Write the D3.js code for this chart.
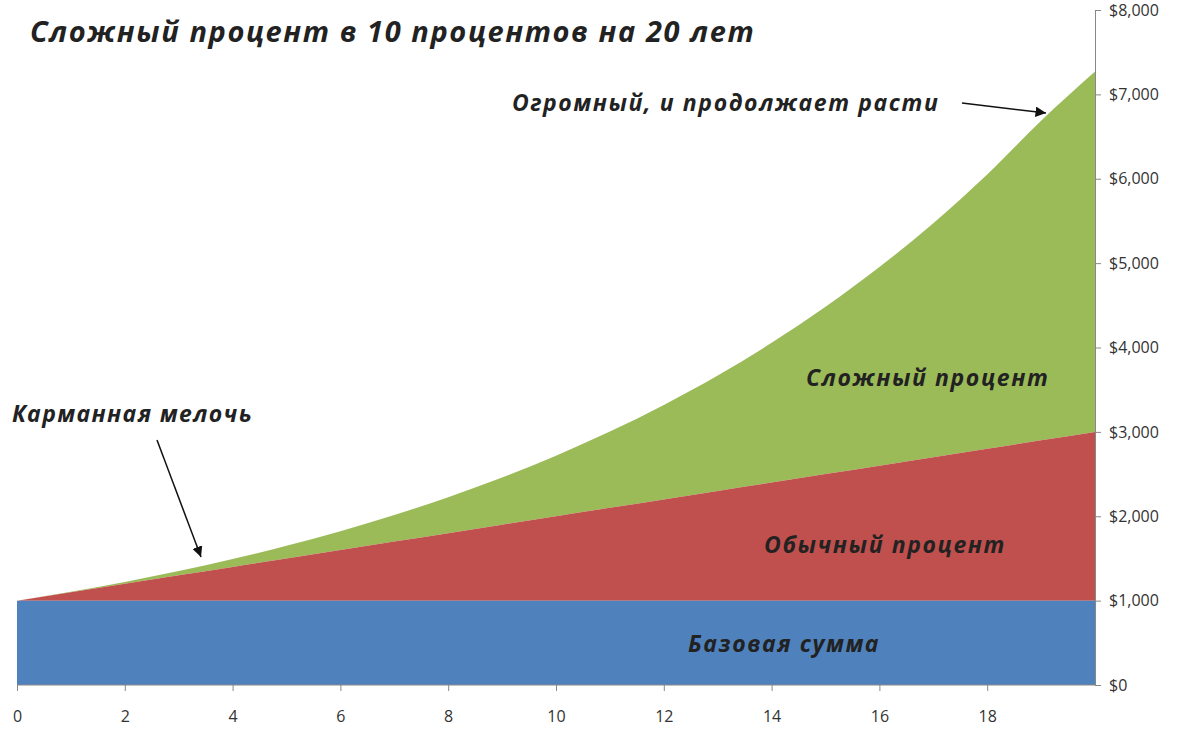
<!DOCTYPE html>
<html><head><meta charset="utf-8">
<script src="https://cdn.jsdelivr.net/npm/d3@7"></script>
<style>body{margin:0;background:#fff}text{font-family:"Open Sans","DejaVu Sans",sans-serif}</style>
</head><body><svg id="c" width="1200" height="751"></svg>
<script>
const years = d3.range(0, 21);
const baseSum = years.map(() => 1000);
const simpleTotal = [1000,1100,1200,1300,1400,1500,1600,1700,1800,1900,2000,2100,2200,2300,2400,2500,2600,2700,2800,2900,3000];
const compoundTotal = [1000,1105,1221,1350,1492,1649,1822,2014,2226,2460,2718,3004,3320,3669,4055,4482,4953,5474,6050,6686,7270];
const xTicks = [0,2,4,6,8,10,12,14,16,18];
const yTicks = d3.range(0, 8001, 1000);

const svg = d3.select('#c');
const x = d3.scaleLinear().domain([0, 20]).range([17, 1095]);
const y = d3.scaleLinear().domain([0, 8000]).range([685, 10]);

const area = (lo, hi) => d3.area().curve(d3.curveMonotoneX)
  .x((d, i) => x(years[i])).y0((d, i) => y(lo[i])).y1((d, i) => y(hi[i]))(years);
const zero = years.map(() => 0);
svg.append('path').attr('d', area(simpleTotal, compoundTotal)).attr('fill', '#9bbb59');
svg.append('path').attr('d', area(baseSum, simpleTotal)).attr('fill', '#c0504d');
svg.append('path').attr('d', area(zero, baseSum)).attr('fill', '#4f81bd');

const xAxis = svg.append('g').attr('transform', `translate(0,${y(0)})`)
  .call(d3.axisBottom(x).tickValues(xTicks).tickSize(6).tickPadding(20).tickFormat(d3.format('d')));
xAxis.select('.domain').attr('d', `M${x(0)},0H${x(20)}`);
svg.append('g').attr('transform', `translate(${x(20)},0)`)
  .call(d3.axisRight(y).tickValues(yTicks).tickSize(6).tickPadding(8).tickFormat(d => '$' + d3.format(',')(d)));
svg.selectAll('.tick text').style('font-size', '16px').attr('fill', '#333');
svg.selectAll('.domain, .tick line').attr('stroke', '#888');

const label = (t, px, py, size, ls) => svg.append('text').attr('x', px).attr('y', py)
  .style('font-size', size + 'px').style('letter-spacing', ls + 'px')
  .attr('font-style', 'italic').attr('font-weight', 'bold').attr('fill', '#222').text(t);
label('Сложный процент в 10 процентов на 20 лет', 30, 42, 29, 1.6);
label('Огромный, и продолжает расти', 512, 111, 23, 1.6);
label('Сложный процент', 806, 386, 23, 1.6);
label('Карманная мелочь', 12, 422, 23, 1.4);
label('Обычный процент', 764, 553, 23, 1.6);
label('Базовая сумма', 688, 652, 23, 1.6);

svg.append('defs').append('marker').attr('id', 'ah').attr('viewBox', '0 0 10 10')
  .attr('refX', 10).attr('refY', 5).attr('markerWidth', 7).attr('markerHeight', 7).attr('orient', 'auto')
  .append('path').attr('d', 'M0,0L10,5L0,10z').attr('fill', '#111');
const arrow = (a, b, c, d) => svg.append('line').attr('x1', a).attr('y1', b).attr('x2', c).attr('y2', d)
  .attr('stroke', '#111').attr('stroke-width', 1.5).attr('marker-end', 'url(#ah)');
arrow(962, 103, 1046, 113);
arrow(157, 440, 201, 557);
</script></body></html>
